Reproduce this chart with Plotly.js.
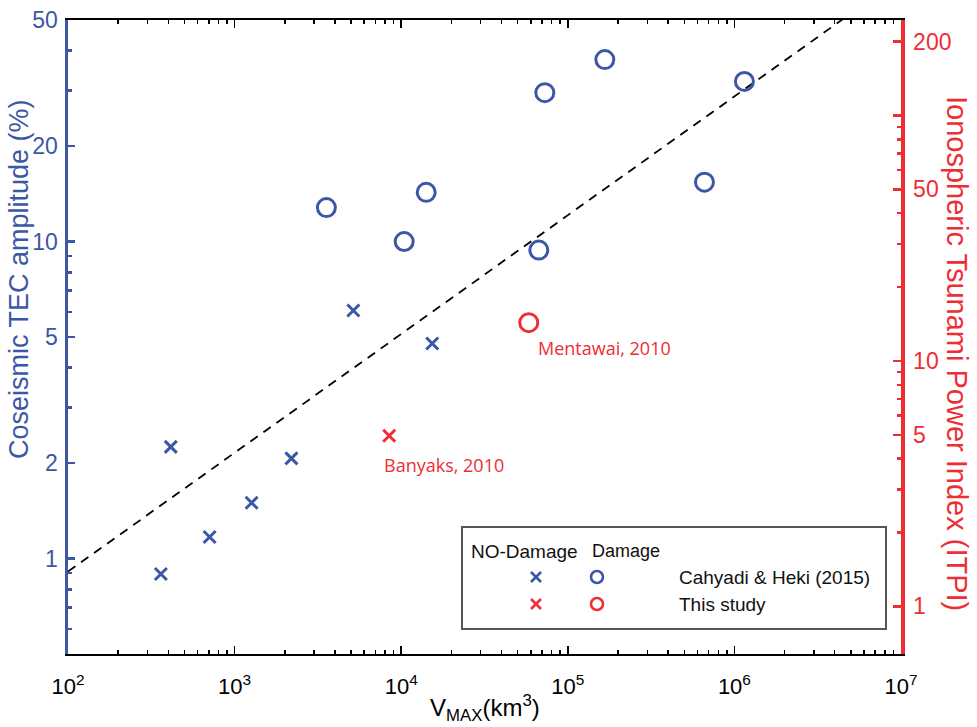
<!DOCTYPE html>
<html>
<head>
<meta charset="utf-8">
<script src="https://cdn.plot.ly/plotly-3.0.1.min.js"></script>
<style>html,body{margin:0;padding:0;background:#fff;}#chart{width:977px;height:727px;}</style>
</head>
<body>
<div id="chart"></div>
<script>
// No-damage events (Cahyadi & Heki 2015)
var noDamageV   = [361, 414, 708, 1265, 2193, 5164, 15350];
var noDamageTEC = [0.894, 2.25, 1.17, 1.50, 2.07, 6.06, 4.77];
// Damage events (Cahyadi & Heki 2015)
var damageV   = [3556, 10420, 14130, 67000, 72800, 166800, 661000, 1148000];
var damageTEC = [12.8, 10.0, 14.3, 9.4, 29.5, 37.5, 15.4, 32.0];
// This study
var studyNoDamageV = [8470];   var studyNoDamageTEC = [2.44];
var studyDamageV   = [58300];  var studyDamageTEC   = [5.55];
var studyLabels = ["Banyaks, 2010", "Mentawai, 2010"];
// Fitted trend line
var fitV   = [100, 1e7];
var fitTEC = [0.91, 68];
// Tick labels
var xTicks = [1e2, 1e3, 1e4, 1e5, 1e6, 1e7];
var xTickText = ["10<sup>2</sup>","10<sup>3</sup>","10<sup>4</sup>","10<sup>5</sup>","10<sup>6</sup>","10<sup>7</sup>"];
var yTicks = [1, 2, 5, 10, 20, 50];
var y2Ticks = [1, 5, 10, 50, 100, 200];
var y2TickText = ["1", "5", "10", "50", "", "200"];
var y2Minor = [2, 3, 4, 6, 7, 8, 9, 20, 30, 40, 60, 70, 80, 90];
var y2Range = [0.64, 245];

var BLUE = "#3B57A6", RED = "#EE2D35";
var FONT = "Liberation Sans, Arial, sans-serif";

var traces = [
  {x: fitV, y: fitTEC, mode: "lines", line: {color: "#000", width: 1.8, dash: "9px,7px"}, hoverinfo: "skip"},
  {x: noDamageV, y: noDamageTEC, mode: "markers",
   marker: {symbol: "x-thin", size: 12, line: {color: BLUE, width: 3}, color: BLUE}},
  {x: damageV, y: damageTEC, mode: "markers",
   marker: {symbol: "circle-open", size: 18, line: {color: BLUE, width: 3}, color: BLUE}},
  {x: studyNoDamageV, y: studyNoDamageTEC, mode: "markers",
   marker: {symbol: "x-thin", size: 12, line: {color: RED, width: 3}, color: RED}},
  {x: studyDamageV, y: studyDamageTEC, mode: "markers",
   marker: {symbol: "circle-open", size: 18, line: {color: RED, width: 3}, color: RED}},
  // invisible carrier so the right-hand ITPI axis is drawn
  {x: fitV, y: y2Range, yaxis: "y2", mode: "markers", marker: {opacity: 0, size: 1}, hoverinfo: "skip"}
];

function px(x){ return (x - 68) / 833; }
function py(y){ return (654 - y) / 634; }

var shapes = [
  {type: "rect", xref: "paper", yref: "paper", x0: px(462), x1: px(886), y0: py(629), y1: py(527),
   line: {color: "#555", width: 2}, fillcolor: "rgba(255,255,255,1)"}
];
function legX(cx, cy, col){
  shapes.push({type:"line", xref:"paper", yref:"paper", xsizemode:"pixel", ysizemode:"pixel",
    xanchor: px(cx), yanchor: py(cy), x0:-5, x1:5, y0:-5, y1:5, line:{color:col, width:2.6}});
  shapes.push({type:"line", xref:"paper", yref:"paper", xsizemode:"pixel", ysizemode:"pixel",
    xanchor: px(cx), yanchor: py(cy), x0:-5, x1:5, y0:5, y1:-5, line:{color:col, width:2.6}});
}
function legO(cx, cy, col){
  shapes.push({type:"circle", xref:"paper", yref:"paper", xsizemode:"pixel", ysizemode:"pixel",
    xanchor: px(cx), yanchor: py(cy), x0:-6, x1:6, y0:-6, y1:6, line:{color:col, width:2.6}});
}
legX(536, 577, BLUE); legO(597, 577, BLUE);
legX(536, 604, RED);  legO(597, 604, RED);

var legFont = {family: FONT, size: 19, color: "#111"};
var lblFont = {family: "Open Sans, sans-serif", size: 18, color: RED};
var annotations = [
  {xref:"paper", yref:"paper", x: px(469), y: py(551), xanchor:"left", yanchor:"middle", text:"NO-Damage", showarrow:false, font: legFont},
  {xref:"paper", yref:"paper", x: px(590), y: py(551), xanchor:"left", yanchor:"middle", text:"Damage", showarrow:false, font: {family: FONT, size: 18, color: "#111"}},
  {xref:"paper", yref:"paper", x: px(677), y: py(577), xanchor:"left", yanchor:"middle", text:"Cahyadi &amp; Heki (2015)", showarrow:false, font: legFont},
  {xref:"paper", yref:"paper", x: px(677), y: py(604), xanchor:"left", yanchor:"middle", text:"This study", showarrow:false, font: legFont},
  {x: Math.log10(studyNoDamageV[0]), y: Math.log10(studyNoDamageTEC[0]), xanchor:"left", yanchor:"middle",
   xshift: -7, yshift: -29, text: studyLabels[0], showarrow:false, font: lblFont},
  {x: Math.log10(studyDamageV[0]), y: Math.log10(studyDamageTEC[0]), xanchor:"left", yanchor:"middle",
   xshift: 7, yshift: -25, text: studyLabels[1], showarrow:false, font: lblFont},
  // axis titles
  {xref:"paper", yref:"paper", x: px(19), y: py(279), xanchor:"center", yanchor:"middle", textangle: -90,
   text: "Coseismic TEC amplitude (%)", showarrow:false, font:{family: FONT, size: 27, color: BLUE}},
  {xref:"paper", yref:"paper", x: px(957), y: py(353), xanchor:"center", yanchor:"middle", textangle: 90,
   text: "Ionospheric Tsunami Power Index (ITPI)", showarrow:false, font:{family: FONT, size: 29, color: RED}},
  {xref:"paper", yref:"paper", x: px(485), y: py(708), xanchor:"center", yanchor:"middle",
   text: "V<sub>MAX</sub>(km<sup>3</sup>)", showarrow:false, font:{family: FONT, size: 24, color: "#000"}}
];

var layout = {
  width: 977, height: 727,
  margin: {l: 68, r: 76, t: 20, b: 73},
  paper_bgcolor: "#fff", plot_bgcolor: "#fff",
  showlegend: false,
  font: {family: FONT},
  xaxis: {
    type: "log", range: [2, 7], tickmode: "array", tickvals: xTicks, ticktext: xTickText,
    ticks: "inside", ticklen: 8, tickwidth: 1.5, tickcolor: "#000",
    showline: true, linecolor: "#000", linewidth: 2, mirror: "ticks",
    showgrid: false, zeroline: false,
    tickfont: {family: FONT, size: 22, color: "#000"},
    ticklabelstandoff: 12,
    minor: {dtick: "D1", ticks: "inside", ticklen: 4, tickwidth: 1.5, tickcolor: "#000", showgrid: false}
  },
  yaxis: {
    type: "log", range: [Math.log10(0.5), Math.log10(50)], tickmode: "array", tickvals: yTicks,
    ticks: "inside", ticklen: 7, tickwidth: 2.5, tickcolor: BLUE,
    showline: true, linecolor: BLUE, linewidth: 3.5,
    showgrid: false, zeroline: false,
    tickfont: {family: FONT, size: 23, color: BLUE},
    ticklabelstandoff: 2,
    minor: {dtick: "D1", ticks: "inside", ticklen: 4, tickwidth: 2.5, tickcolor: BLUE, showgrid: false}
  },
  yaxis2: {
    type: "log", overlaying: "y", side: "right", anchor: "x",
    range: [Math.log10(y2Range[0]), Math.log10(y2Range[1])], tickmode: "array", tickvals: y2Ticks, ticktext: y2TickText,
    ticks: "inside", ticklen: 8, tickwidth: 2.5, tickcolor: RED,
    showline: true, linecolor: RED, linewidth: 3.5,
    showgrid: false, zeroline: false,
    tickfont: {family: FONT, size: 23, color: RED},
    ticklabelstandoff: 4,
    minor: {tickmode: "array", tickvals: y2Minor, ticks: "inside", ticklen: 4, tickwidth: 2.5, tickcolor: RED, showgrid: false}
  },
  shapes: shapes,
  annotations: annotations
};

Plotly.newPlot("chart", traces, layout, {staticPlot: true, displayModeBar: false});
</script>
</body>
</html>
